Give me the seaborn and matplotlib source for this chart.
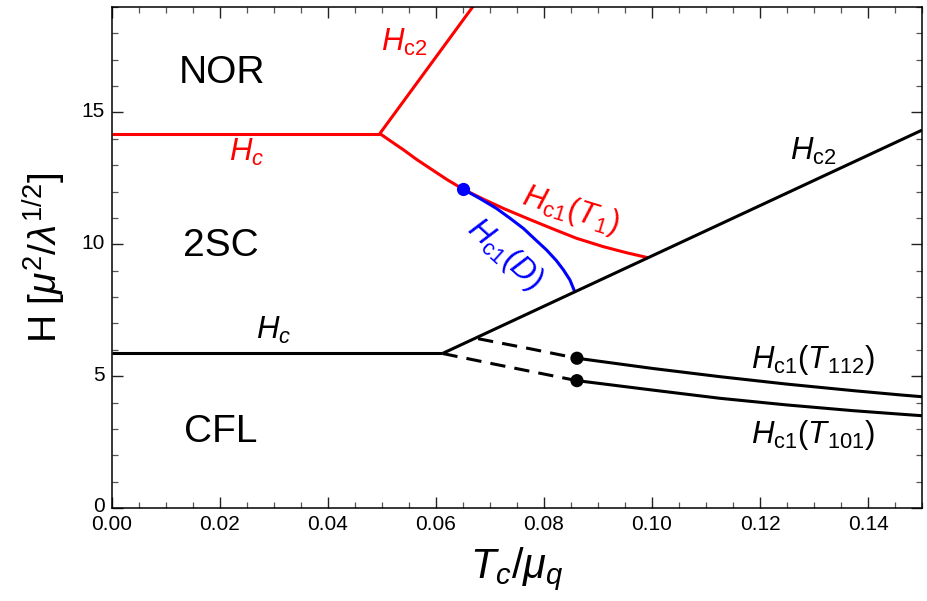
import numpy as np
import pandas as pd
import matplotlib
matplotlib.use("Agg")
import matplotlib.pyplot as plt
import matplotlib.transforms as mtransforms
import seaborn as sns

# ---------------- data ----------------
# red: NOR / 2SC boundaries
red_hc_x = [0.0, 0.0496]
red_hc_y = [14.2, 14.2]
red_hc2_x = [0.0496, 0.0700]
red_hc2_y = [14.2, 19.9]
red_t1_x = [0.0496, 0.0515, 0.0540, 0.0564, 0.0589, 0.0620, 0.0651, 0.0688,
            0.0725, 0.0768, 0.0817, 0.0860, 0.0910, 0.0953, 0.0993]
red_t1_y = [14.2, 13.93, 13.58, 13.22, 12.88, 12.46, 12.08, 11.71,
            11.36, 10.99, 10.58, 10.23, 9.91, 9.68, 9.49]
# blue: H_c1(D)
blue_x = [0.0651, 0.0681, 0.0712, 0.0737, 0.0762, 0.0786, 0.0805, 0.0823,
          0.0836, 0.0848, 0.0857]
blue_y = [12.08, 11.74, 11.36, 10.99, 10.60, 10.14, 9.78, 9.38,
          9.03, 8.65, 8.20]
blue_dot = (0.0651, 12.08)
# black: 2SC / CFL boundaries
blk_hc_x = [0.0, 0.0612]
blk_hc_y = [5.86, 5.86]
blk_hc2_x = [0.0612, 0.15]
blk_hc2_y = [5.86, 14.33]
dash112_x = [0.0678, 0.0774, 0.0861]
dash112_y = [6.42, 6.04, 5.68]
dash101_x = [0.0612, 0.0712, 0.0861]
dash101_y = [5.86, 5.44, 4.83]
t112_x = [0.0861, 0.1002, 0.1126, 0.1249, 0.1373, 0.1459, 0.15]
t112_y = [5.68, 5.29, 4.98, 4.70, 4.45, 4.29, 4.22]
t101_x = [0.0861, 0.1002, 0.1126, 0.1249, 0.1373, 0.1459, 0.15]
t101_y = [4.83, 4.47, 4.16, 3.91, 3.69, 3.56, 3.50]
black_dots_x = [0.0861, 0.0861]
black_dots_y = [5.68, 4.83]

x_ticks = [0.00, 0.02, 0.04, 0.06, 0.08, 0.10, 0.12, 0.14]
y_ticks = [0, 5, 10, 15]

# ---------------- style ----------------
sns.set_theme(style="ticks")
plt.rcParams["font.family"] = ["Liberation Sans", "DejaVu Sans"]
plt.rcParams["mathtext.fontset"] = "custom"
plt.rcParams["mathtext.rm"] = "Liberation Sans"
plt.rcParams["mathtext.it"] = "Liberation Sans:italic"
plt.rcParams["mathtext.bf"] = "Liberation Sans:bold"
plt.rcParams["text.color"] = "black"
plt.rcParams["axes.labelcolor"] = "black"
plt.rcParams["xtick.color"] = "black"
plt.rcParams["ytick.color"] = "black"

fig = plt.figure(figsize=(9.27, 6.01), dpi=100)
ax = fig.add_axes([112 / 927, 1 - 508 / 601, 810 / 927, 501 / 601])

RED, BLUE, BLK = "#ff0000", "#0000ff", "#000000"
LW = 2.2


def draw(xs, ys, color, ls="-", dashes=None):
    df = pd.DataFrame({"x": xs, "y": ys})
    sns.lineplot(data=df, x="x", y="y", sort=False, estimator=None, color=color,
                 lw=LW, ax=ax, linestyle=ls, solid_capstyle="butt",
                 solid_joinstyle="round")
    if dashes is not None:
        ax.lines[-1].set_dashes(dashes)


draw(red_hc_x, red_hc_y, RED)
draw(red_hc2_x, red_hc2_y, RED)
draw(red_t1_x, red_t1_y, RED)
draw(blue_x, blue_y, BLUE)
draw(blk_hc_x, blk_hc_y, BLK)
draw(blk_hc2_x, blk_hc2_y, BLK)
draw(dash112_x, dash112_y, BLK, ls="--", dashes=(5, 3))
draw(dash101_x, dash101_y, BLK, ls="--", dashes=(5, 3))
draw(t112_x, t112_y, BLK)
draw(t101_x, t101_y, BLK)

sns.scatterplot(x=black_dots_x, y=black_dots_y, color=BLK, s=90, edgecolor="none",
                ax=ax, zorder=5)
sns.scatterplot(x=[blue_dot[0]], y=[blue_dot[1]], color=BLUE, s=90, edgecolor="none",
                ax=ax, zorder=5)

# ---------------- axes ----------------
ax.set_xlim(0, 0.15)
ax.set_ylim(0, 19)
ax.set_xticks(x_ticks)
ax.set_xticklabels([f"{v:.2f}" for v in x_ticks])
ax.set_yticks(y_ticks)
ax.set_yticklabels([str(v) for v in y_ticks])
ax.set_xticks(np.arange(0, 0.1501, 0.005), minor=True)
ax.set_yticks(np.arange(0, 19.01, 1), minor=True)
ax.tick_params(which="both", direction="in", top=True, right=True,
               labelsize=15, labelcolor="black")
ax.tick_params(which="major", length=8, width=1.0, pad=5, color="#222222")
ax.tick_params(which="minor", length=4.5, width=0.9, color="#555555")
for s in ax.spines.values():
    s.set_linewidth(1.1)
    s.set_color("black")

# lift the y tick labels a touch so "0" sits just above "0.00"
shift = mtransforms.ScaledTranslation(0, 3 / 100, fig.dpi_scale_trans)
for lab in ax.get_yticklabels():
    lab.set_transform(lab.get_transform() + shift)

ax.set_xlabel(r"$T_c/\mu_q$", fontsize=30, labelpad=8)
ax.set_ylabel(r"H [$\mu^2/\lambda^{1/2}$]", fontsize=28, labelpad=10)

# ---------------- annotations ----------------
ax.text(0.0204, 16.5, "NOR", fontsize=28, ha="center", va="center")
ax.text(0.0202, 9.94, "2SC", fontsize=28, ha="center", va="center")
ax.text(0.0202, 2.88, "CFL", fontsize=28, ha="center", va="center")

FS = 22.5
ax.text(0.0541, 17.67, r"$H_{\mathrm{c2}}$", fontsize=FS, color=RED, ha="center", va="center")
ax.text(0.0250, 13.5, r"$H_c$", fontsize=FS, color=RED, ha="center", va="center")
ax.text(0.0850, 11.3, r"$H_{\mathrm{c1}}(T_1)$", fontsize=FS, color=RED,
        ha="center", va="center", rotation=-17, rotation_mode="anchor")
ax.text(0.0728, 9.62, r"$H_{\mathrm{c1}}(D)$", fontsize=FS, color=BLUE,
        ha="center", va="center", rotation=-42, rotation_mode="anchor")

ax.text(0.0300, 6.75, r"$H_c$", fontsize=FS, color=BLK, ha="center", va="center")
ax.text(0.1298, 13.51, r"$H_{\mathrm{c2}}$", fontsize=FS, color=BLK, ha="center", va="center")
ax.text(0.1298, 5.62, r"$H_{\mathrm{c1}}(T_{112})$", fontsize=FS, color=BLK,
        ha="center", va="center")
ax.text(0.1298, 2.77, r"$H_{\mathrm{c1}}(T_{101})$", fontsize=FS, color=BLK,
        ha="center", va="center")

fig.savefig("out.png", dpi=100)
